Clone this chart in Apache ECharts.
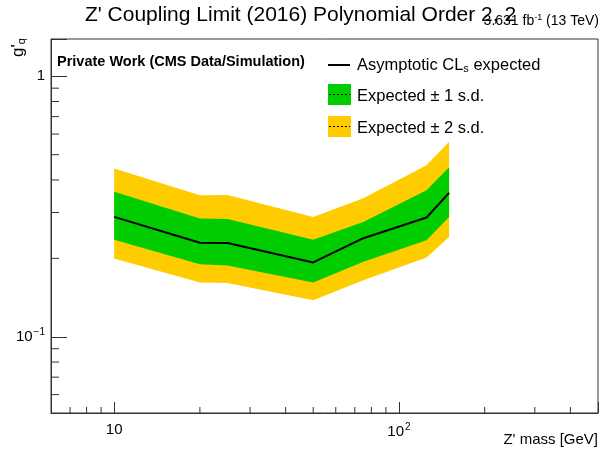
<!DOCTYPE html>
<html>
<head>
<meta charset="utf-8">
<script src="https://cdn.jsdelivr.net/npm/echarts@6/dist/echarts.min.js"></script>
<style>
  html, body { margin: 0; padding: 0; background: #fff; }
  #chart { width: 601px; height: 450px; }
</style>
</head>
<body>
<div id="chart"></div>
<script>
// Z' mass points [GeV]
const masses = [10, 20, 25, 50, 75, 125, 150];
// Expected coupling limit and its +-1 / +-2 s.d. bands
const expected = [0.2886, 0.2295, 0.229, 0.193, 0.239, 0.2871, 0.3567];
const up1 = [0.360, 0.2846, 0.283, 0.236, 0.276, 0.3653, 0.447];
const down1 = [0.236, 0.190, 0.188, 0.1617, 0.194, 0.2349, 0.2886];
const up2 = [0.4424, 0.3497, 0.350, 0.2886, 0.340, 0.4556, 0.560];
const down2 = [0.1998, 0.1617, 0.161, 0.138, 0.165, 0.2017, 0.2418];

// Axis ranges and tick values
const xRange = [6, 500];
const yRange = [0.051, 1.39];
const xMinorTicks = [7, 8, 9, 20, 30, 40, 50, 60, 70, 80, 90, 200, 300, 400];
const yMinorTicks = [0.06, 0.07, 0.08, 0.09, 0.2, 0.3, 0.4, 0.5, 0.6, 0.7, 0.8, 0.9];

const FONT = '"Liberation Sans", Arial, Helvetica, sans-serif';
const AXIS_COLOR = '#333';

function bandSeries(upper, lower, color, z) {
  return {
    type: 'custom',
    z: z,
    silent: true,
    clip: true,
    data: [[masses[0], expected[0]]],
    renderItem: function (params, api) {
      const pts = [];
      for (let i = 0; i < masses.length; i++) pts.push(api.coord([masses[i], upper[i]]));
      for (let i = masses.length - 1; i >= 0; i--) pts.push(api.coord([masses[i], lower[i]]));
      return { type: 'polygon', shape: { points: pts }, style: { fill: color } };
    }
  };
}

function minorTickSeries(values, isX, len) {
  return {
    type: 'custom',
    z: 10,
    silent: true,
    clip: false,
    data: values.map(v => isX ? [v, yRange[0]] : [xRange[0], v]),
    renderItem: function (params, api) {
      const p = api.coord([api.value(0), api.value(1)]);
      const shape = isX
        ? { x1: p[0], y1: p[1], x2: p[0], y2: p[1] - len }
        : { x1: p[0], y1: p[1], x2: p[0] + len, y2: p[1] };
      return { type: 'line', shape: shape, style: { stroke: AXIS_COLOR, lineWidth: 1 } };
    }
  };
}

function powerLabel(v) {
  const e = Math.round(Math.log10(v));
  if (Math.abs(Math.log10(v) - e) > 1e-6) return '';
  if (e === 0) return '1';
  if (e === 1) return '10';
  return '10{sup|' + (e < 0 ? '\u2212' + (-e) : e) + '}';
}

const chart = echarts.init(document.getElementById('chart'), null, { renderer: 'canvas' });

chart.setOption({
  animation: false,
  backgroundColor: '#ffffff',
  textStyle: { fontFamily: FONT },
  grid: {
    left: 51, right: 3, top: 39, bottom: 37,
    show: true, borderColor: AXIS_COLOR, borderWidth: 1, backgroundColor: 'transparent'
  },
  xAxis: {
    type: 'log',
    logBase: 10,
    min: xRange[0],
    max: xRange[1],
    axisLine: { show: true, lineStyle: { color: AXIS_COLOR, width: 1 } },
    axisTick: { show: true, inside: true, length: 11, lineStyle: { color: AXIS_COLOR } },
    splitLine: { show: false },
    axisLabel: {
      color: '#000', fontSize: 15, fontFamily: FONT, margin: 9,
      formatter: powerLabel,
      rich: { sup: { fontSize: 10, verticalAlign: 'top', padding: [0, 0, 9, 1], color: '#000', fontFamily: FONT } }
    }
  },
  yAxis: {
    type: 'log',
    logBase: 10,
    min: yRange[0],
    max: yRange[1],
    axisLine: { show: true, lineStyle: { color: AXIS_COLOR, width: 1 } },
    axisTick: { show: true, inside: true, length: 16, lineStyle: { color: AXIS_COLOR } },
    splitLine: { show: false },
    axisLabel: {
      color: '#000', fontSize: 15, fontFamily: FONT, margin: 6,
      formatter: powerLabel,
      rich: { sup: { fontSize: 10, verticalAlign: 'top', padding: [0, 0, 9, 1], color: '#000', fontFamily: FONT } }
    }
  },
  series: [
    bandSeries(up2, down2, '#FFCC00', 1),
    bandSeries(up1, down1, '#00CC00', 2),
    {
      type: 'line',
      z: 3,
      silent: true,
      symbol: 'none',
      data: masses.map((m, i) => [m, expected[i]]),
      lineStyle: { color: '#000', width: 2 }
    },
    minorTickSeries(xMinorTicks, true, 6),
    minorTickSeries(yMinorTicks, false, 8)
  ],
  graphic: [
    // title
    { type: 'text', left: 'center', top: 5, style: { text: "Z' Coupling Limit (2016) Polynomial Order 2, 2", font: '21px ' + FONT, fill: '#000' } },
    // luminosity
    { type: 'text', right: 2, top: 13, style: {
        text: '3.631 fb{sup|-1} (13 TeV)', font: '14px ' + FONT, fill: '#000',
        rich: { sup: { fontSize: 9, verticalAlign: 'top', padding: [0, 0, 7, 0], fontFamily: FONT } }
    } },
    // y axis title
    { type: 'text', x: 10, y: 57, rotation: Math.PI / 2, style: {
        text: "g'{sub|q}", font: '17px ' + FONT, fill: '#000', verticalAlign: 'top',
        rich: { sub: { fontSize: 11, verticalAlign: 'bottom', padding: [6, 0, 0, 0], fontFamily: FONT } }
    } },
    // x axis title
    { type: 'text', right: 3, top: 432, style: { text: "Z' mass [GeV]", font: '15px ' + FONT, fill: '#000' } },
    // label
    { type: 'text', x: 57, y: 62, style: { text: 'Private Work (CMS Data/Simulation)', font: 'bold 14.5px ' + FONT, fill: '#000', verticalAlign: 'middle' } },
    // legend
    { type: 'line', shape: { x1: 328, y1: 65, x2: 350, y2: 65 }, style: { stroke: '#000', lineWidth: 2 } },
    { type: 'text', x: 357, y: 65, style: {
        text: 'Asymptotic CL{sub|s} expected', font: '16.5px ' + FONT, fill: '#000', verticalAlign: 'middle',
        rich: { sub: { fontSize: 11, verticalAlign: 'bottom', padding: [8, 0, 0, 0], fontFamily: FONT } }
    } },
    { type: 'rect', shape: { x: 328, y: 84, width: 23, height: 21 }, style: { fill: '#00CC00' } },
    { type: 'line', shape: { x1: 329, y1: 94.5, x2: 350, y2: 94.5 }, style: { stroke: '#000', lineWidth: 1, lineDash: [2, 2] } },
    { type: 'text', x: 357, y: 96, style: { text: 'Expected \u00b1 1 s.d.', font: '16.5px ' + FONT, fill: '#000', verticalAlign: 'middle' } },
    { type: 'rect', shape: { x: 328, y: 116, width: 23, height: 21 }, style: { fill: '#FFCC00' } },
    { type: 'line', shape: { x1: 329, y1: 126.5, x2: 350, y2: 126.5 }, style: { stroke: '#000', lineWidth: 1, lineDash: [2, 2] } },
    { type: 'text', x: 357, y: 128, style: { text: 'Expected \u00b1 2 s.d.', font: '16.5px ' + FONT, fill: '#000', verticalAlign: 'middle' } }
  ]
});
</script>
</body>
</html>
